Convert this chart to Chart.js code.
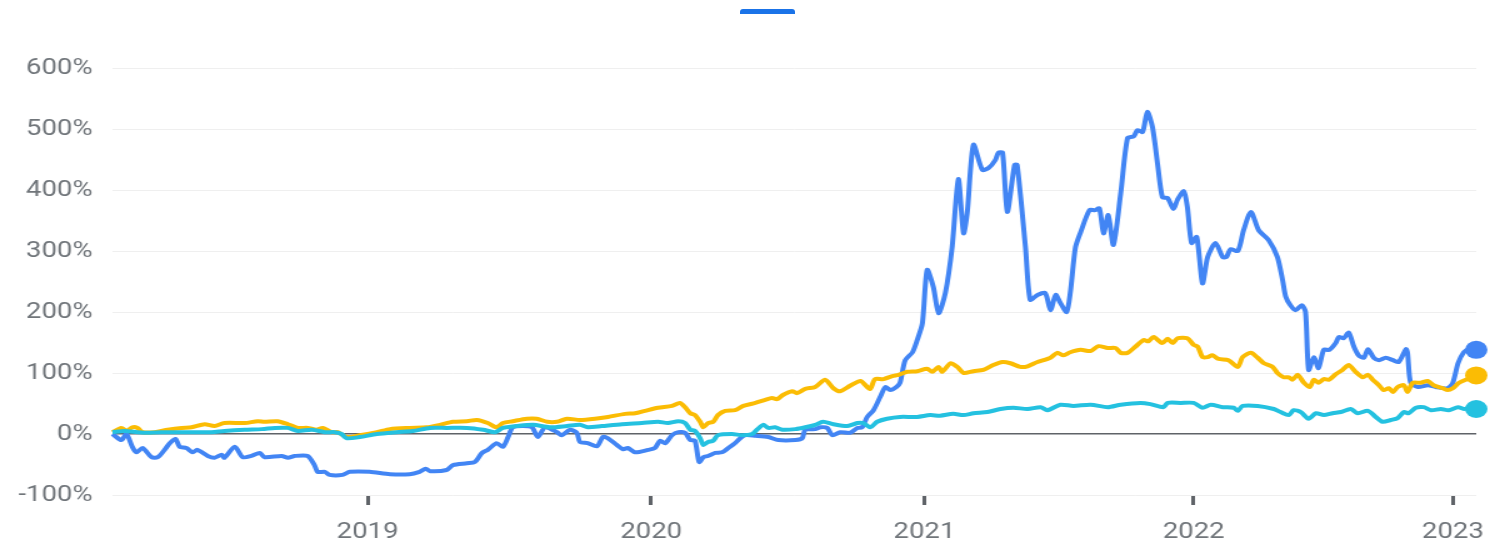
<!DOCTYPE html>
<html>
<head>
<meta charset="utf-8">
<title>Rendimiento comparado</title>
<script src="https://cdn.jsdelivr.net/npm/chart.js@4.4.1/dist/chart.umd.min.js"></script>
<style>
  html, body { margin: 0; padding: 0; background: #fff; overflow: hidden; }
  #wrap { position: relative; width: 1488px; height: 544px; }
  /* el lienzo se dibuja más estrecho y se estira en horizontal */
  #stretch { position: absolute; left: 0; top: 0; width: 1191px; height: 544px; transform: scaleX(1.25); transform-origin: 0 0; }
  #tab { position: absolute; left: 740px; top: 9px; width: 55px; height: 5px; background: #1a73e8; border-radius: 3px 3px 0 0; }
</style>
</head>
<body>
<div id="wrap">
  <div id="stretch"><canvas id="grafica" width="1191" height="544"></canvas></div>
  <div id="tab"></div>
</div>
<script>
// Semanas desde el inicio de la serie (eje X) y variación en % (eje Y)
const weekMax = 262;
const yearTickWeeks = [49.0, 103.5, 156.0, 207.7, 257.5];
const yearLabels = ['2019', '2020', '2021', '2022', '2023'];
const yMin = -100, yMax = 600, yStep = 100;

// Serie azul
const stockPoints = [[0,0],[1.7,-10],[2.7,0],[3.8,-21],[4.6,-30],[5.8,-23],[7.5,-38],[8.7,-38],[10,-26],[11,-15],[12.1,-8],[12.9,-21],[14.2,-23],[15.4,-30],[16.3,-26],[18.3,-36],[19.6,-39],[21,-34],[21.5,-39],[23.5,-21],[25,-38],[26.7,-36],[28.3,-31],[29.2,-38],[32.5,-36],[33.7,-39],[35,-36],[37.5,-36],[38.8,-51],[39.4,-62],[40.8,-62],[41.7,-67],[44.2,-67],[45.6,-62],[49.4,-62],[53.3,-66],[57.1,-66],[59,-62],[60.2,-57],[61,-61],[64.2,-59],[65.4,-51],[68.1,-48],[69.6,-46],[71,-31],[72.1,-26],[73.8,-15],[75,-21],[76,-5],[76.9,11],[78.8,13],[80.6,11],[81.7,-5],[83.1,11],[85.4,3],[86.3,-2],[87.9,7],[89.2,2],[89.8,-13],[91.3,-15],[93.1,-20],[94.2,-5],[95.2,-7],[96.9,-18],[98.1,-25],[99,-23],[100.4,-30],[102.9,-26],[104.2,-23],[105.2,-11],[106.2,-15],[107.5,-2],[108.7,3],[110,2],[111,-10],[111.9,-11],[112.7,-46],[113.5,-38],[114.4,-36],[115.8,-31],[117.1,-30],[118.3,-23],[119.6,-15],[120.6,-7],[121.5,-2],[123.5,-3],[126,-5],[127.9,-10],[131.2,-10],[132.5,-7],[133.1,7],[135,8],[136,11],[137.3,10],[138.3,-2],[139.8,3],[141.7,2],[143.1,10],[144,11],[145,28],[146.2,39],[147.5,61],[148.5,77],[149.4,72],[150.6,77],[151.3,84],[152.3,121],[153.7,134],[154.6,154],[155.6,182],[156.5,269],[157.7,241],[158.7,198],[160,231],[161.3,306],[162.5,418],[163.5,329],[164.2,362],[165.4,474],[167.1,433],[168.3,436],[169.6,449],[170.2,461],[171,461],[171.9,364],[173.3,441],[173.8,441],[175.4,306],[176.3,220],[177.7,228],[179.2,231],[180.2,203],[181.2,228],[182.1,215],[183.3,200],[184,231],[185,306],[186,331],[187.7,367],[188.8,367],[189.6,370],[190.4,329],[191.3,359],[192.3,310],[193.7,395],[195,485],[196.2,488],[196.9,498],[197.9,495],[198.8,528],[199.8,503],[200.8,441],[201.7,388],[202.7,387],[203.8,369],[204.6,384],[205.8,398],[206.5,372],[207.3,313],[208.3,323],[209.4,247],[210.4,290],[211.9,313],[213.3,290],[214,290],[214.8,303],[216.2,300],[217.3,334],[218.7,364],[220.2,334],[222.1,318],[223.8,290],[224.8,252],[225.4,225],[226.3,211],[227.3,203],[228.5,211],[229.2,200],[229.8,105],[230.8,126],[231.7,108],[232.7,138],[233.8,138],[235,149],[235.6,159],[236.5,157],[237.5,166],[238.5,143],[239.4,129],[240.4,125],[241.2,139],[242.3,125],[243.3,121],[244.6,125],[246,121],[247.1,118],[248.5,139],[248.8,133],[249.4,84],[250.8,77],[252.7,80],[254.2,77],[256.5,75],[257.5,84],[258.5,116],[259.6,134],[260.6,139],[262,138]];

// Serie amarilla
const peerPoints = [[0,3],[1.7,10],[2.7,5],[3.8,11],[4.8,10],[5.8,3],[8.1,3],[10.6,7],[13.3,10],[15.2,11],[17.7,16],[19.6,13],[21.5,18],[25.4,18],[27.9,21],[29.2,20],[31.7,21],[33.7,16],[35.6,10],[37.5,10],[39.2,7],[40.4,10],[42.1,3],[43.3,3],[45,-5],[47.5,-2],[50.8,3],[53.3,8],[57.1,10],[60.4,11],[62.9,15],[65.4,20],[68.1,21],[70,23],[72.1,18],[73.8,11],[75,18],[76.9,21],[79.6,25],[81.5,25],[83.5,20],[85.4,20],[87.3,25],[89.8,23],[92.7,25],[95.2,28],[98.5,33],[100.4,34],[102.3,38],[104.8,43],[107.5,46],[109,51],[110,44],[111,34],[111.9,31],[112.9,20],[113.5,11],[114.4,18],[115.4,20],[116.3,31],[117.7,38],[119.6,39],[121.2,46],[123.5,51],[125.4,56],[126.7,59],[127.7,57],[128.8,64],[130.6,70],[131.5,67],[133.1,74],[135,77],[136.9,89],[138.5,75],[139.8,70],[141.7,79],[143.7,87],[145,77],[145.6,74],[146.5,90],[148.1,90],[149.8,95],[151,97],[152.7,102],[154.6,103],[156.5,107],[157.5,102],[158.7,110],[159.4,102],[161,116],[162.3,110],[163.5,100],[165.4,103],[167.3,105],[169.2,113],[171,118],[172.5,116],[174.4,110],[175.8,111],[177.7,118],[180.2,125],[181.5,133],[182.7,129],[184,134],[186,138],[187.9,136],[189.4,144],[191.2,141],[192.7,141],[193.7,133],[195,133],[196.5,143],[198.1,154],[199,152],[200,159],[201.7,149],[202.7,156],[203.7,149],[204.6,157],[206.5,157],[207.7,146],[208.5,143],[209.4,126],[210.4,126],[211.3,129],[212.5,123],[214.4,121],[216.2,110],[217.1,126],[218.7,133],[220,125],[221.2,116],[222.9,110],[223.8,100],[225,93],[226,93],[226.7,89],[227.7,97],[228.8,85],[230,77],[230.8,89],[231.7,84],[232.7,90],[233.7,89],[235,98],[236.3,105],[237.5,113],[238.8,102],[240.2,93],[241.2,97],[242.1,89],[243.3,80],[244.2,72],[245.2,75],[246,69],[246.9,77],[248.1,80],[248.8,69],[249.8,84],[251.3,84],[252.7,87],[253.8,80],[255.6,75],[256.5,72],[257.5,75],[258.7,84],[260,89],[261.3,93],[262,96]];

// Serie celeste
const indexPoints = [[0,3],[2.3,5],[4.8,3],[6.7,2],[9.4,3],[12.5,3],[15.8,3],[19,3],[21.5,5],[25.4,7],[28.7,8],[31.2,10],[33.7,10],[35.6,5],[38.3,7],[40.8,3],[42.7,3],[44,0],[45,-7],[47.5,-5],[50.8,0],[54.6,3],[57.7,5],[61,10],[64.2,10],[68.1,10],[71.2,7],[73.5,3],[75,10],[77.7,13],[80.8,15],[84,11],[87.3,13],[89.8,15],[91.3,11],[94,13],[97.9,16],[101.7,18],[104.8,20],[106.7,18],[108.7,21],[110,18],[111,7],[111.9,5],[112.9,-7],[113.5,-18],[114.4,-13],[115.4,-11],[116.3,-2],[119,0],[121,-2],[122.9,0],[123.8,7],[125,15],[126,10],[127.3,11],[128.7,7],[131.2,8],[133.1,11],[135,15],[136.5,20],[138.5,16],[141.2,13],[143.1,18],[144.2,18],[145.6,11],[146.9,20],[148.8,25],[151.3,28],[154.6,28],[157.1,31],[159,30],[161.5,33],[163.5,31],[165.4,34],[168.1,36],[170.6,41],[173.1,43],[175.8,41],[178.3,44],[179.6,39],[182.1,48],[184.6,46],[187.9,48],[191.2,44],[193.7,48],[197.5,51],[199.4,49],[201.9,44],[202.7,51],[205.2,51],[207.7,51],[209.4,43],[211,48],[213.3,44],[215.4,43],[216.2,38],[217.1,46],[220,46],[223.1,41],[224.4,36],[226,31],[226.9,39],[228.3,36],[229.8,25],[231.2,34],[232.7,31],[234.4,34],[236,36],[237.9,41],[239.2,34],[241.2,38],[242.7,28],[244,20],[245.6,23],[246.9,26],[248.1,36],[249,34],[250.4,43],[251.9,44],[253.3,39],[255.2,41],[256.7,39],[258.5,44],[259.6,41],[261,43],[262,41]];

const toXY = (pts) => pts.map(p => ({ x: p[0], y: p[1] }));

// solo el último punto lleva círculo
function lastPointRadius(ctx) {
    return ctx.dataIndex === ctx.dataset.data.length - 1 ? 9 : 0;
}

function serie(label, pts, color, order) {
    return {
        label: label,
        data: toXY(pts),
        borderColor: color,
        backgroundColor: color,
        borderWidth: 4,
        pointRadius: lastPointRadius,
        pointHoverRadius: lastPointRadius,
        pointBorderWidth: 0,
        tension: 0.25,
        clip: false,
        order: order
    };
}

const ctx = document.getElementById('grafica').getContext('2d');
const chart = new Chart(ctx, {
    type: 'line',
    data: {
        datasets: [
            serie('Índice', indexPoints, '#24c1e0', 0),
            serie('Sector', peerPoints, '#fbbc04', 1),
            serie('Acción', stockPoints, '#4285f4', 2)
        ]
    },
    options: {
        responsive: false,
        animation: false,
        layout: { padding: { top: 68, right: 10, left: 0, bottom: 0 } },
        plugins: { legend: { display: false }, tooltip: { enabled: false } },
        scales: {
            x: {
                type: 'linear',
                min: 0,
                max: weekMax,
                afterBuildTicks: (axis) => { axis.ticks = yearTickWeeks.map(v => ({ value: v })); },
                afterFit: (axis) => {
                    axis.height = 49;
                    // la etiqueta "2023" puede salirse un poco por la derecha
                    axis.paddingLeft = 0;
                    axis.paddingRight = 0;
                },
                border: { display: false },
                grid: {
                    drawOnChartArea: false,
                    drawTicks: true,
                    tickLength: 10,
                    tickWidth: 3,
                    tickColor: '#5f6368'
                },
                ticks: {
                    autoSkip: false,
                    maxRotation: 0,
                    padding: 14,
                    color: '#70757a',
                    font: { family: 'Roboto', size: 22 },
                    callback: (v) => yearLabels[yearTickWeeks.indexOf(v)]
                }
            },
            y: {
                min: yMin,
                max: yMax,
                afterFit: (axis) => { axis.width = 90; },
                border: { display: false },
                grid: {
                    drawTicks: false,
                    color: (c) => c.tick && c.tick.value === 0 ? '#5f6368' : '#efefef',
                    lineWidth: (c) => c.tick && c.tick.value === 0 ? 1.5 : 1
                },
                ticks: {
                    stepSize: yStep,
                    padding: 16,
                    color: '#70757a',
                    font: { family: 'Roboto', size: 22 },
                    callback: (v) => v + '%'
                }
            }
        }
    }
});
</script>
</body>
</html>
